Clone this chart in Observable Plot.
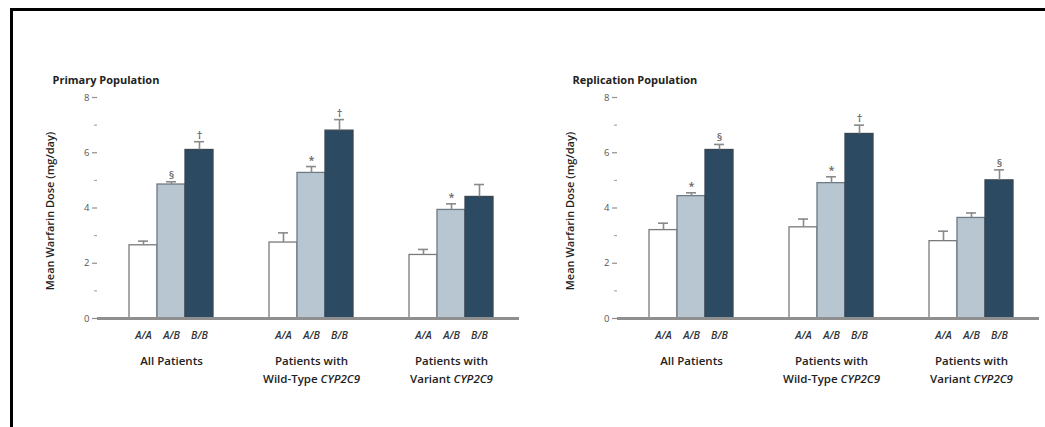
<!DOCTYPE html>
<html>
<head>
<meta charset="utf-8">
<script src="https://cdn.jsdelivr.net/npm/d3@7"></script>
<script src="https://cdn.jsdelivr.net/npm/@observablehq/plot@0.6"></script>
<style>
  html, body { margin: 0; padding: 0; background: #fff; overflow: hidden; }
  #page { position: relative; width: 1045px; height: 427px; overflow: hidden; background: #fff; }
  #border { position: absolute; left: 0; top: 0; }
  .chart { position: absolute; top: 0; }
</style>
</head>
<body>
<div id="page">
  <svg id="border" width="1045" height="427"><path d="M1045,9.5H11.5V427" fill="none" stroke="#000" stroke-width="3"/></svg>
  <div id="left" class="chart" style="left:0px"></div>
  <div id="right" class="chart" style="left:520px"></div>
</div>
<script>
// ---- data ----
const groups = ["All Patients", "Patients with\nWild-Type CYP2C9", "Patients with\nVariant CYP2C9"];
const genotypes = ["A/A", "A/B", "B/B"];
const yTicks = [0, 2, 4, 6, 8];
const yMinorTicks = [1, 3, 5, 7];

const primaryTitle = "Primary Population";
const primaryMeans = [[2.65, 4.85, 6.1], [2.75, 5.27, 6.8], [2.3, 3.93, 4.4]];
const primaryUpper = [[2.8, 4.95, 6.4], [3.1, 5.5, 7.2], [2.5, 4.15, 4.85]];
const primarySymbols = [["", "§", "†"], ["", "*", "†"], ["", "*", ""]];

const replicationTitle = "Replication Population";
const replicationMeans = [[3.2, 4.43, 6.1], [3.3, 4.9, 6.68], [2.8, 3.64, 5.0]];
const replicationUpper = [[3.45, 4.55, 6.3], [3.6, 5.13, 7.0], [3.16, 3.82, 5.38]];
const replicationSymbols = [["", "*", "§"], ["", "*", "†"], ["", "", "§"]];

const yLabel = "Mean Warfarin Dose (mg/day)";
const fills = {"A/A": "#ffffff", "A/B": "#b8c6d2", "B/B": "#2c4a62"};
const strokes = {"A/A": "#7a7a7a", "A/B": "#6e7a84", "B/B": "#3a4650"};

const FONT = "'Open Sans', 'DejaVu Sans', sans-serif";

function makeChart(title, means, upper, symbols, width) {
  const rows = [];
  groups.forEach((g, gi) => genotypes.forEach((gt, ti) => {
    rows.push({key: gi + "|" + gt, group: g, genotype: gt,
               mean: means[gi][ti], upper: upper[gi][ti], sym: symbols[gi][ti]});
  }));
  // band domain: bars grouped, two spacer bands between groups
  const domain = [];
  groups.forEach((g, gi) => {
    genotypes.forEach(gt => domain.push(gi + "|" + gt));
    if (gi < groups.length - 1) { domain.push("sp" + gi + "a", "sp" + gi + "b"); }
  });
  const barKeys = rows.map(d => d.key);
  const groupRows = groups.map((g, gi) => ({key: gi + "|A/B", label: g}));

  const svg = Plot.plot({
    width: width,
    height: 427,
    marginLeft: 97,
    marginRight: width - 519,
    marginTop: 97,
    marginBottom: 109,
    style: {fontFamily: FONT, background: "transparent"},
    x: {type: "band", domain: domain, paddingInner: 0, paddingOuter: 0.9, align: 0.55, axis: null},
    y: {domain: [0, 8], axis: null},
    marks: [
      Plot.barY(rows, {x: "key", y: "mean", fill: d => fills[d.genotype],
        stroke: d => strokes[d.genotype], strokeWidth: 1.3}),
      Plot.ruleX(rows, {x: "key", y1: "mean", y2: "upper", stroke: "#8a8a8a", strokeWidth: 1.6}),
      Plot.tickY(rows, {x: "key", y: "upper", stroke: "#8a8a8a", strokeWidth: 1.6, insetLeft: 9, insetRight: 9}),
      Plot.text(rows.filter(d => d.sym), {x: "key", y: "upper", text: "sym", dy: -3,
        lineAnchor: "bottom", fontSize: 11, fill: "#666", fontWeight: 600}),
      Plot.ruleY([0], {stroke: "#8f8f8f", strokeWidth: 3}),
      Plot.axisY({ticks: [], tickSize: 0, line: true, stroke: "#8f8f8f", strokeWidth: 3, label: null}),
      Plot.axisY({ticks: yTicks, tickSize: 5, tickPadding: 3, stroke: "#8f8f8f", strokeWidth: 1.2,
        fill: "#555", fontSize: 9.5, label: null}),
      Plot.axisY({ticks: yMinorTicks, tickSize: 3, stroke: "#9a9a9a", strokeWidth: 1, tickFormat: () => "", label: null}),
      Plot.axisX({ticks: barKeys, tickSize: 0, tickPadding: 13, fontSize: 10.5, fill: "#333", fontWeight: 600,
        tickFormat: d => d.split("|")[1], label: null, fontStyle: "italic"}),
      Plot.text(groupRows, {x: "key", frameAnchor: "bottom", dy: 33, text: "label", lineAnchor: "top",
        fontSize: 11.5, lineHeight: 1.6, fill: "#222", fontWeight: 600}),
      Plot.text([yLabel], {frameAnchor: "left", textAnchor: "middle", dx: -47, dy: 3, rotate: -90, fontSize: 11,
        fill: "#222", fontWeight: 600}),
      Plot.text([title], {frameAnchor: "top-left", dx: -45, dy: -21, textAnchor: "start",
        fontSize: 11, fill: "#222", fontWeight: 700})
    ]
  });
  const ns = "http://www.w3.org/2000/svg";
  svg.querySelectorAll("text, tspan").forEach(el => {
    if (el.childNodes.length === 1 && el.firstChild.nodeType === 3 && el.textContent.includes("CYP2C9")) {
      const parts = el.textContent.split("CYP2C9");
      el.textContent = parts[0];
      const t = document.createElementNS(ns, "tspan");
      t.setAttribute("font-style", "italic");
      t.textContent = "CYP2C9";
      el.appendChild(t);
      if (parts[1]) el.appendChild(document.createTextNode(parts[1]));
    }
  });
  return svg;
}

document.getElementById("left").appendChild(
  makeChart(primaryTitle, primaryMeans, primaryUpper, primarySymbols, 527));
document.getElementById("right").appendChild(
  makeChart(replicationTitle, replicationMeans, replicationUpper, replicationSymbols, 525));
</script>
</body>
</html>
